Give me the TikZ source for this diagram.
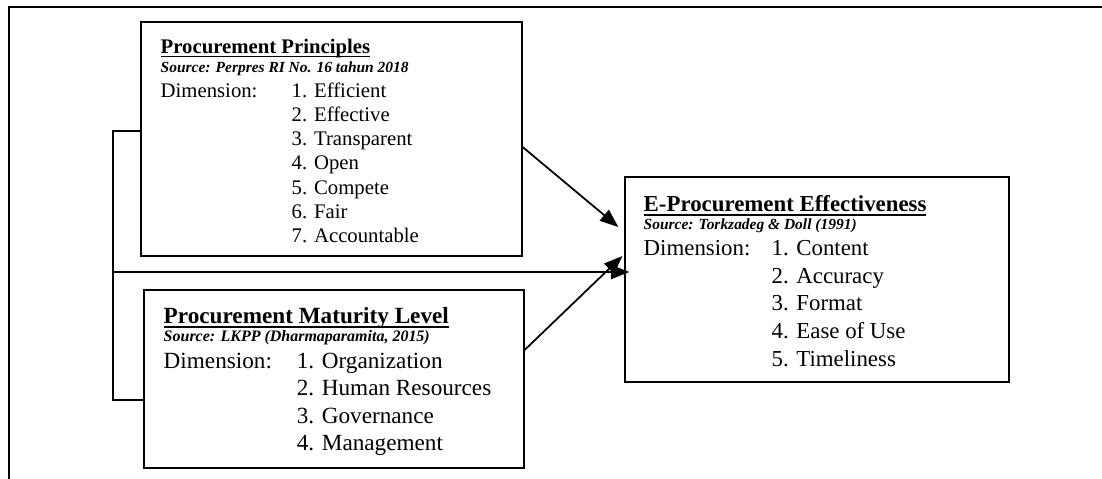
\documentclass[tikz,border=0pt]{standalone}
\usepackage{fontspec}
\setmainfont{Liberation Serif}
\usetikzlibrary{arrows.meta}
\tikzset{
	framebox/.style={draw, line width=0.7pt, inner sep=0pt},
	boxtext/.style={anchor=north west, align=left, inner sep=0pt},
	arr/.style={line width=1pt, -{Triangle[length=10.5pt,width=8pt]}}
}
\newsavebox{\ttlbox}
\newcommand{\boxtitle}[1]{\sbox{\ttlbox}{\bfseries #1}\rlap{\rule[-2.3pt]{\wd\ttlbox}{0.9pt}}\usebox{\ttlbox}}
\newcommand{\boxsrc}[2]{{\fontsize{#1}{#1}\selectfont\bfseries\itshape #2}}

\begin{document}
\begin{tikzpicture}
	\useasboundingbox (0,0) rectangle (22.04,-9.58);
	\draw[line width=1pt] (0.18,-9.58) -- (0.18,-0.14) -- (22.04,-0.14);

	\node[framebox, minimum width=7.62cm, minimum height=4.68cm] (prin) at (6.63,-2.78) {};
	\node[framebox, minimum width=7.60cm, minimum height=3.56cm] (matur) at (6.68,-7.58) {};
	\node[framebox, minimum width=7.68cm, minimum height=4.10cm] (eff) at (16.34,-5.59) {};

	\node[boxtext, font={\fontsize{11.8}{13.8}\selectfont}] (printxt) at ([shift={(0.40,-0.34)}]prin.north west) {
		\boxtitle{Procurement Principles}\\[-2.7pt]
		\boxsrc{8.8}{Source: Perpres RI No. 16 tahun 2018}\\[0.2pt]
		\makebox[74.5pt][l]{Dimension:}1. Efficient\\
		\hspace*{74.5pt}2. Effective\\
		\hspace*{74.5pt}3. Transparent\\
		\hspace*{74.5pt}4. Open\\
		\hspace*{74.5pt}5. Compete\\
		\hspace*{74.5pt}6. Fair\\
		\hspace*{74.5pt}7. Accountable};
	\node[boxtext, font={\fontsize{13.2}{15.7}\selectfont}] (maturtxt) at ([shift={(0.40,-0.36)}]matur.north west) {
		\boxtitle{Procurement Maturity Level}\\[-5.6pt]
		\boxsrc{9.1}{Source: LKPP (Dharmaparamita, 2015)}\\[-0.6pt]
		\makebox[75.7pt][l]{Dimension:}1. Organization\\
		\hspace*{75.7pt}2. Human Resources\\
		\hspace*{75.7pt}3. Governance\\
		\hspace*{75.7pt}4. Management};
	\node[boxtext, font={\fontsize{13.0}{15.7}\selectfont}] (efftxt) at ([shift={(0.38,-0.38)}]eff.north west) {
		\boxtitle{E-Procurement Effectiveness}\\[-5.5pt]
		\boxsrc{8.8}{Source: Torkzadeg \& Doll (1991)}\\[-0.9pt]
		\makebox[72.8pt][l]{Dimension:}1. Content\\
		\hspace*{72.8pt}2. Accuracy\\
		\hspace*{72.8pt}3. Format\\
		\hspace*{72.8pt}4. Ease of Use\\
		\hspace*{72.8pt}5. Timeliness};

	\coordinate (brtop) at (2.26,-2.62);
	\coordinate (brmid) at (2.26,-5.44);
	\coordinate (brbot) at (2.26,-8.00);
	\draw[line width=0.8pt] (brtop -| prin.west) -- (brtop) -- (brbot) -- (brbot -| matur.west);
	\draw[arr] (brmid) -- ([xshift=0.1cm]brmid -| eff.west);
	\draw[arr] ([yshift=-0.16cm]prin.east) -- ([shift={(-0.12,1.05)}]eff.west);
	\draw[arr] ([yshift=0.58cm]matur.east) -- ([shift={(-0.04,0.47)}]eff.west);
\end{tikzpicture}
\end{document}
